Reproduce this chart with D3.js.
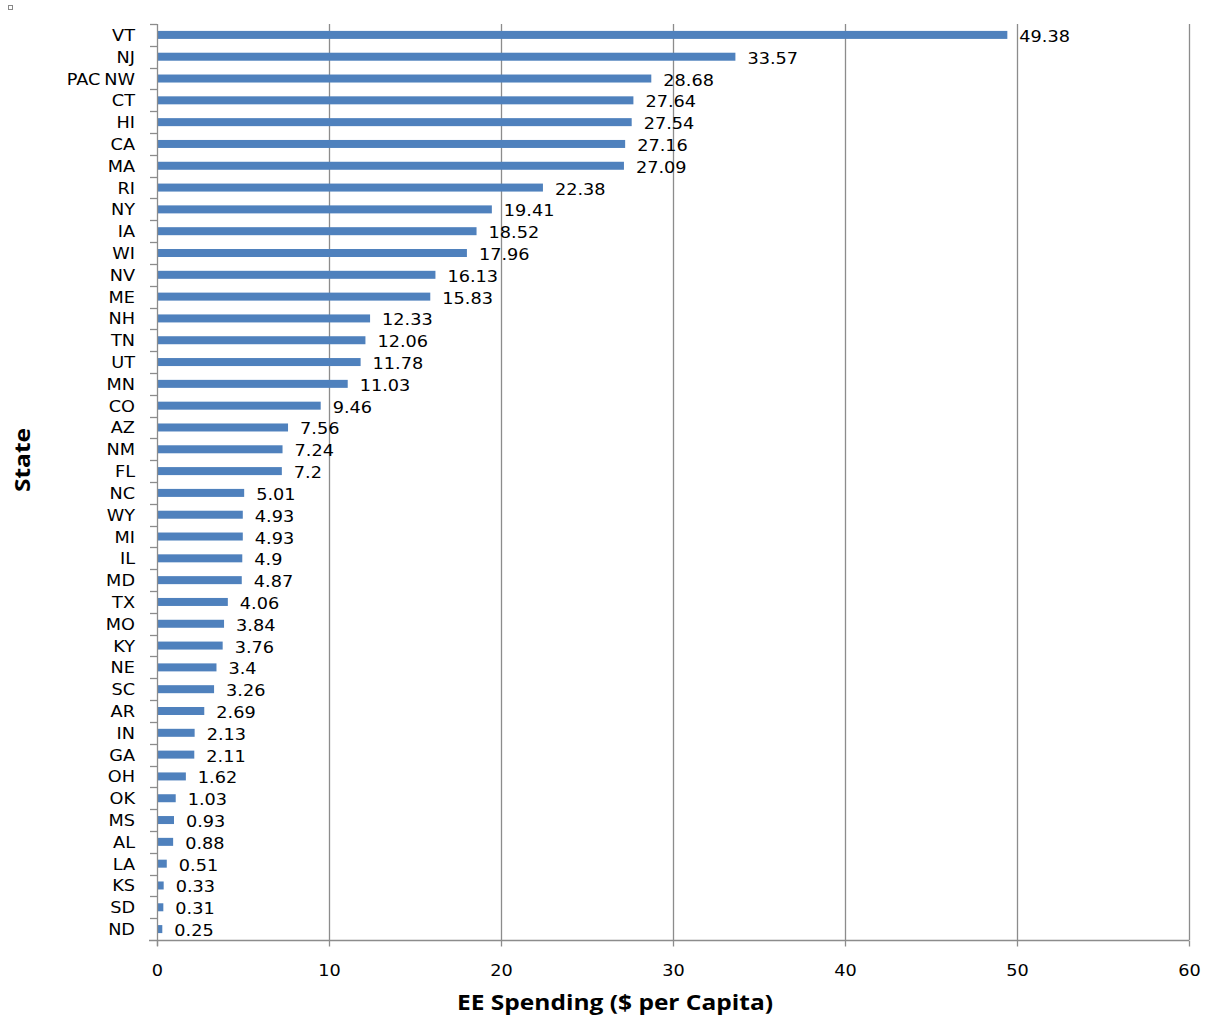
<!DOCTYPE html>
<html lang="en">
<head>
    <meta charset="utf-8">
    <title>EE Spending per Capita by State</title>
    <script src="https://cdn.jsdelivr.net/npm/d3@7"></script>
    <style>
        body { margin: 0; background: #fff; }
        svg { display: block; font-family: "DejaVu Sans", Verdana, sans-serif; }
    </style>
</head>
<body>
<div id="container"></div>
<script type="text/javascript">
    // states, top to bottom
    var states = ["VT", "NJ", "PAC NW", "CT", "HI", "CA", "MA", "RI", "NY", "IA", "WI", "NV", "ME",
        "NH", "TN", "UT", "MN", "CO", "AZ", "NM", "FL", "NC", "WY", "MI", "IL", "MD", "TX", "MO",
        "KY", "NE", "SC", "AR", "IN", "GA", "OH", "OK", "MS", "AL", "LA", "KS", "SD", "ND"];
    var spending = [49.38, 33.57, 28.68, 27.64, 27.54, 27.16, 27.09, 22.38, 19.41, 18.52, 17.96, 16.13, 15.83,
        12.33, 12.06, 11.78, 11.03, 9.46, 7.56, 7.24, 7.2, 5.01, 4.93, 4.93, 4.9, 4.87, 4.06, 3.84,
        3.76, 3.4, 3.26, 2.69, 2.13, 2.11, 1.62, 1.03, 0.93, 0.88, 0.51, 0.33, 0.31, 0.25];
    var xTicks = [0, 10, 20, 30, 40, 50, 60];

    var width = 1209, height = 1020;
    var margin = {top: 24, left: 157};
    var plotRight = 1189, plotBottom = 940;
    var stretch = 1.18; // text in the picture is a bit wide

    var data = states.map(function(s, i) { return {state: s, value: spending[i]}; });

    var svg = d3.select("#container").append("svg")
        .attr("width", width)
        .attr("height", height);

    // little marker top-left
    svg.append("rect")
        .attr("x", 8.5).attr("y", 5.5)
        .attr("width", 4).attr("height", 4)
        .style("fill", "none").style("stroke", "#888").style("stroke-width", 1);

    var x = d3.scaleLinear().domain([0, 60]).range([margin.left, plotRight]);
    var y = d3.scaleBand().domain(states).range([margin.top, plotBottom]);

    // vertical gridlines
    svg.append("g").selectAll("line")
        .data(xTicks.slice(1))
        .enter().append("line")
        .attr("x1", function(d) { return Math.round(x(d)) + 0.5; })
        .attr("x2", function(d) { return Math.round(x(d)) + 0.5; })
        .attr("y1", margin.top)
        .attr("y2", plotBottom)
        .style("stroke", "#8c8c8c")
        .style("stroke-width", 1.3);

    // bars
    var barH = 8;
    svg.append("g").selectAll("rect")
        .data(data)
        .enter().append("rect")
        .attr("x", x(0) + 1)
        .attr("y", function(d) { return y(d.state) + y.bandwidth() / 2 - barH / 2; })
        .attr("width", function(d) { return x(d.value) - x(0); })
        .attr("height", barH)
        .style("fill", "#4f81bd");

    // value labels
    svg.append("g").selectAll("text")
        .data(data)
        .enter().append("text")
        .attr("transform", function(d) {
            return "translate(" + (x(d.value) + 13) + "," + (y(d.state) + y.bandwidth() / 2 + 7) + ") scale(" + stretch + ",1)";
        })
        .style("font-size", "15px")
        .style("fill", "#000")
        .text(function(d) { return d.value; });

    // x axis
    var xAxis = d3.axisBottom(x).tickValues(xTicks).tickSize(6).tickPadding(19).tickSizeOuter(0);
    var gx = svg.append("g")
        .attr("transform", "translate(0," + (plotBottom + 0.5) + ")")
        .call(xAxis);
    gx.select(".domain").style("stroke", "#8c8c8c").style("stroke-width", 1.3)
        .attr("d", "M" + (margin.left - 8) + ",0H" + plotRight);
    gx.selectAll(".tick line").style("stroke", "#8c8c8c").style("stroke-width", 1.3);
    gx.selectAll(".tick text")
        .attr("transform", "scale(" + stretch + ",1)")
        .attr("x", 0)
        .style("font-family", "DejaVu Sans, sans-serif")
        .style("font-size", "15px")
        .style("fill", "#000");

    // y axis: ticks between categories
    var gy = svg.append("g");
    gy.append("line")
        .attr("x1", x(0) + 0.5).attr("x2", x(0) + 0.5)
        .attr("y1", margin.top).attr("y2", plotBottom + 6)
        .style("stroke", "#8c8c8c").style("stroke-width", 1.3);
    var bounds = states.map(function(s) { return y(s); });
    gy.selectAll(".ytick")
        .data(bounds)
        .enter().append("line")
        .attr("class", "ytick")
        .attr("x1", x(0) - 7).attr("x2", x(0))
        .attr("y1", function(d) { return Math.round(d) + 0.5; })
        .attr("y2", function(d) { return Math.round(d) + 0.5; })
        .style("stroke", "#8c8c8c").style("stroke-width", 1.3);
    gy.selectAll(".ylab")
        .data(states)
        .enter().append("text")
        .attr("class", "ylab")
        .attr("transform", function(d) {
            return "translate(135," + (y(d) + y.bandwidth() / 2 + 6) + ") scale(" + stretch + ",1)";
        })
        .attr("text-anchor", "end")
        .style("font-size", "15px")
        .style("word-spacing", "-1.5px")
        .text(function(d) { return d; });

    // axis titles
    svg.append("text")
        .attr("x", 615).attr("y", 1010)
        .attr("text-anchor", "middle")
        .attr("textLength", 316)
        .attr("lengthAdjust", "spacingAndGlyphs")
        .style("font-family", "Open Sans, sans-serif")
        .style("font-weight", "bold")
        .style("font-size", "22px")
        .text("EE Spending ($ per Capita)");
    svg.append("text")
        .attr("transform", "translate(30,460) rotate(-90)")
        .attr("text-anchor", "middle")
        .attr("textLength", 64)
        .attr("lengthAdjust", "spacingAndGlyphs")
        .style("font-family", "Open Sans, sans-serif")
        .style("font-weight", "bold")
        .style("font-size", "22px")
        .text("State");
</script>
</body>
</html>
